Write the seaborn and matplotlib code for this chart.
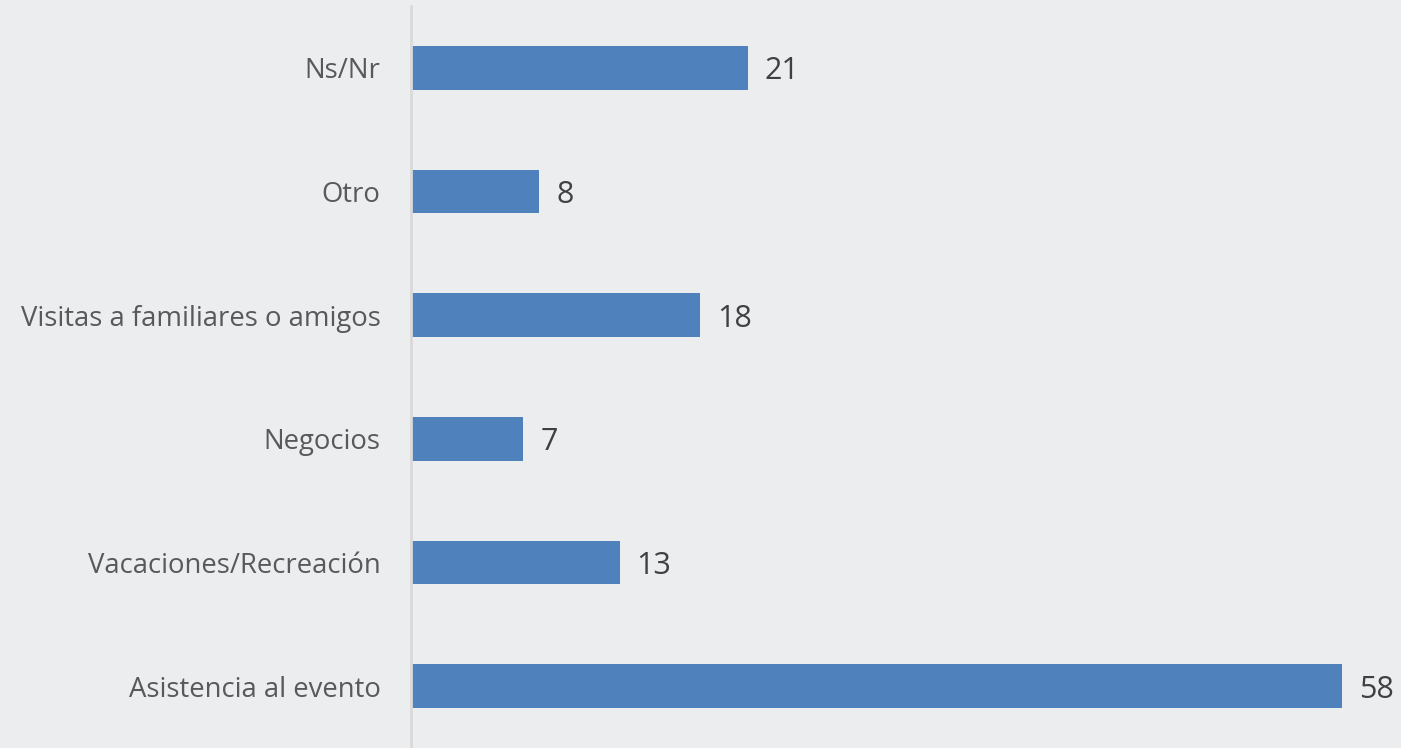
import seaborn as sns
import pandas as pd
import matplotlib.pyplot as plt

# datos
categorias = ['Ns/Nr', 'Otro', 'Visitas a familiares o amigos', 'Negocios',
              'Vacaciones/Recreación', 'Asistencia al evento']
valores = [21, 8, 18, 7, 13, 58]

df = pd.DataFrame({'motivo': categorias, 'valor': valores})

sns.set_style('white', {'axes.facecolor': '#ECEDEF', 'figure.facecolor': '#ECEDEF'})
plt.rcParams['font.family'] = ['Open Sans', 'DejaVu Sans']

fig = plt.figure(figsize=(14.01, 7.48), dpi=100)
ax = fig.add_axes([411 / 1401, 0.0, 979 / 1401, 1 - 6 / 748])

sns.barplot(data=df, x='valor', y='motivo', order=categorias, color='#4F81BD',
            saturation=1, width=0.355, linewidth=0, ax=ax)

for i, v in enumerate(valores):
    ax.text(v + 1.05, i, str(v), va='center_baseline', ha='left', fontsize=22,
            color='#404040')

ax.set_xlim(0, 61)
ax.set_ylim(5.5, -0.5)
ax.set_xlabel('')
ax.set_ylabel('')
ax.set_xticks([])
for s in ['top', 'right', 'bottom']:
    ax.spines[s].set_visible(False)
ax.spines['left'].set_color('#D9D9D9')
ax.spines['left'].set_linewidth(2)
ax.tick_params(axis='y', length=0, pad=22, labelsize=19.8, labelcolor='#595959')

plt.savefig('out.png', dpi=100, facecolor='#ECEDEF')
